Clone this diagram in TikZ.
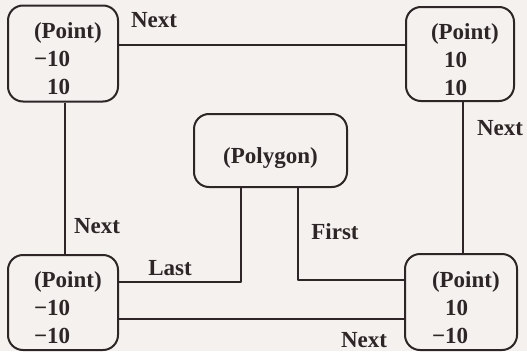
\documentclass[tikz,border=0pt]{standalone}
\usepackage{fontspec}
\setmainfont{Liberation Serif}
\definecolor{polyink}{HTML}{2E2626}
\definecolor{polypaper}{HTML}{F4F1EF}

\begin{document}
\begin{tikzpicture}[x=1pt,y=-1pt,line join=round,
    pointbox/.style={draw=polyink,line width=2pt,rounded corners=15pt,
      minimum width=110pt,minimum height=96pt,align=left,inner sep=0pt,
      text width=58pt,text height=16pt,text depth=46pt,
      font=\fontsize{23}{28}\selectfont\bfseries,text=polyink},
    link/.style={draw=polyink,line width=2pt},
    linklabel/.style={font=\fontsize{23}{26}\selectfont\bfseries,text=polyink,inner sep=0pt}]
  % Match the scanned frame of the artwork.
  \fill[polypaper] (0,0) rectangle (527,351);
  \useasboundingbox (0,0) rectangle (527,351);

  % The four points, clockwise from the top left.
  \node[pointbox] (ptl) at (63,53.5) {(Point)\\−10\\\phantom{−}10};
  \node[pointbox,minimum width=108pt,minimum height=94pt] (ptr) at (460,54) {(Point)\\\phantom{−}10\\\phantom{−}10};
  \node[pointbox,minimum width=112pt] (pbr) at (461,302) {(Point)\\\phantom{−}10\\−10};
  \node[pointbox,minimum height=95pt] (pbl) at (63,302.5) {(Point)\\−10\\−10};

  % The polygon in the middle.
  \node[pointbox,minimum width=153pt,minimum height=73pt,text width=,align=center,
    text height=26pt,text depth=0pt] (poly) at (270.5,150.5) {(Polygon)};

  % Next links round the ring.
  \draw[link] ([yshift=8.5pt]ptl.east) -- ([yshift=8.5pt]ptl.east -| ptr.west);
  \draw[link] ([xshift=3pt]ptr.south) -- ([xshift=3pt]ptr.south |- pbr.north);
  \draw[link] ([yshift=-16pt]pbl.east) -- ([yshift=-16pt]pbl.east -| pbr.west);
  \draw[link] ([xshift=2pt]ptl.south) -- ([xshift=2pt]ptl.south |- pbl.north);

  % First and Last from the polygon.
  \draw[link] ([xshift=27.5pt]poly.south) |- ([yshift=22pt]pbr.west);
  \draw[link] ([xshift=-29.5pt]poly.south) |- ([yshift=20.5pt]pbl.east);

  \node[linklabel] (ntop) at (154,20) {Next};
  \node[linklabel] (nright) at (500,128) {Next};
  \node[linklabel] (nbottom) at (364,340) {Next};
  \node[linklabel] (nleft) at (97,226) {Next};
  \node[linklabel] (lfirst) at (335,232) {First};
  \node[linklabel] (llast) at (170,268) {Last};
\end{tikzpicture}
\end{document}
